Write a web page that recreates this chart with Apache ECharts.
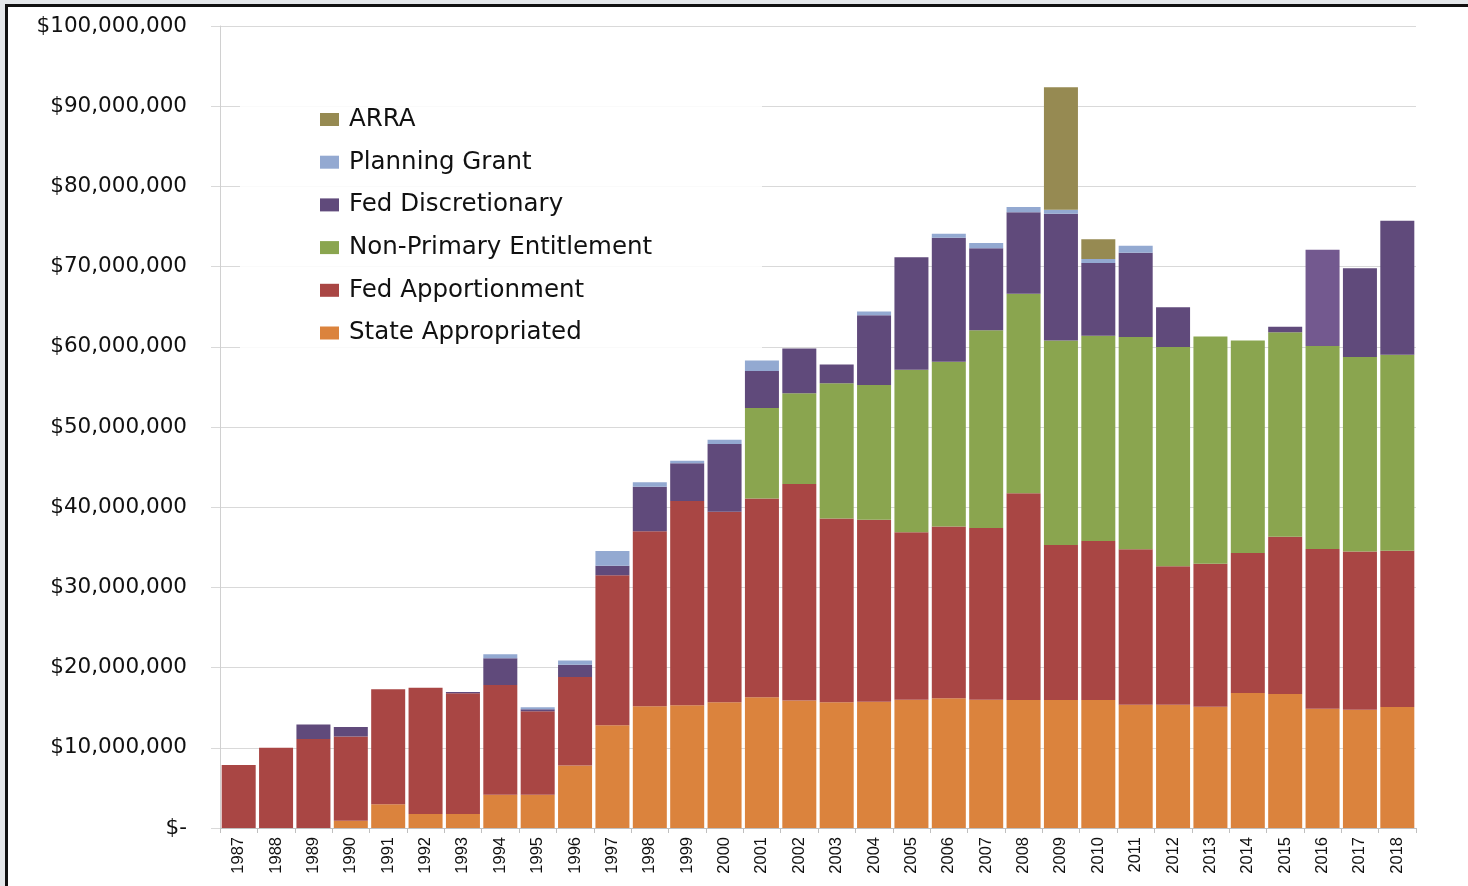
<!DOCTYPE html>
<html>
<head>
<meta charset="utf-8">
<script src="https://cdn.jsdelivr.net/npm/echarts@6/dist/echarts.min.js"></script>
<style>
  html, body { margin: 0; padding: 0; background: #ffffff; }
  #chart { position: absolute; left: 0; top: 0; width: 1468px; height: 886px; background: #ffffff; }
  .frame { position: absolute; pointer-events: none; }
</style>
</head>
<body>
<div id="chart"></div>
<div class="frame" style="left:0;top:0;width:1468px;height:4px;background:#e4e7ea;"></div>
<div class="frame" style="left:0;top:0;width:5px;height:886px;background:#e4e7ea;"></div>
<div class="frame" style="left:5px;top:4px;width:1463px;height:3px;background:#111111;"></div>
<div class="frame" style="left:5px;top:4px;width:3px;height:882px;background:#111111;"></div>
<script>
// Years (categories)
var years = ['1987','1988','1989','1990','1991','1992','1993','1994','1995','1996','1997','1998','1999','2000',
  '2001','2002','2003','2004','2005','2006','2007','2008','2009','2010','2011','2012','2013','2014','2015','2016','2017','2018'];

// Values in millions of dollars
var stateAppropriated = [0, 0, 0, 0.9, 2.95, 1.75, 1.75, 4.15, 4.15, 7.8, 12.8, 15.17, 15.3, 15.67,
  16.3, 15.9, 15.67, 15.75, 16.0, 16.17, 16.0, 15.96, 15.96, 15.96, 15.38, 15.38, 15.13, 16.83, 16.71, 14.88, 14.75, 15.09];
var fedApportionment = [7.86, 10.0, 11.1, 10.5, 14.35, 15.75, 15.05, 13.68, 10.4, 11.03, 18.7, 21.83, 25.47, 23.77,
  24.8, 27.0, 22.93, 22.69, 20.87, 21.43, 21.4, 25.77, 19.33, 19.83, 19.37, 17.25, 17.83, 17.46, 19.61, 19.91, 19.72, 19.47];
var nonPrimaryEntitlement = [0, 0, 0, 0, 0, 0, 0, 0, 0, 0, 0, 0, 0, 0,
  11.27, 11.3, 16.84, 16.8, 20.26, 20.54, 24.66, 24.89, 25.48, 25.6, 26.47, 27.35, 28.32, 26.48, 25.49, 25.31, 24.26, 24.45];
var fedDiscretionary = [0, 0, 1.8, 1.2, 0, 0, 0.15, 3.33, 0.25, 1.54, 1.2, 5.56, 4.7, 8.44,
  4.61, 5.6, 2.36, 8.69, 14.03, 15.46, 10.22, 10.15, 15.83, 9.06, 10.51, 4.95, 0, 0, 0.7, 12.0, 11.06, 16.71];
var planningGrant = [0, 0, 0, 0, 0, 0, 0, 0.5, 0.25, 0.53, 1.84, 0.54, 0.33, 0.54,
  1.32, 0, 0, 0.47, 0, 0.5, 0.66, 0.66, 0.5, 0.5, 0.87, 0, 0, 0, 0, 0, 0, 0];
var arra = [0, 0, 0, 0, 0, 0, 0, 0, 0, 0, 0, 0, 0, 0,
  0, 0, 0, 0, 0, 0, 0, 0, 15.25, 2.45, 0, 0, 0, 0, 0, 0, 0, 0];

var seriesNames = ['State Appropriated', 'Fed Apportionment', 'Non-Primary Entitlement', 'Fed Discretionary', 'Planning Grant', 'ARRA'];
var seriesData = [stateAppropriated, fedApportionment, nonPrimaryEntitlement, fedDiscretionary, planningGrant, arra];
var seriesColors = ['#DB833D', '#A94644', '#8AA54F', '#604A7B', '#93A9D1', '#968A52'];
var legendOrder = ['ARRA', 'Planning Grant', 'Fed Discretionary', 'Non-Primary Entitlement', 'Fed Apportionment', 'State Appropriated'];

function fmtDollar(v) {
  if (v === 0) return '$-';
  return '$' + Math.round(v).toString().replace(/\B(?=(\d{3})+(?!\d))/g, ',');
}

var series = seriesNames.map(function (name, i) {
  return {
    name: name,
    type: 'bar',
    stack: 'total',
    barCategoryGap: '9%',
    itemStyle: { color: seriesColors[i] },
    emphasis: { disabled: true },
    data: seriesData[i].map(function (v, j) {
      var item = { value: v * 1e6 };
      if (name === 'Fed Discretionary' && years[j] === '2016') {
        item.itemStyle = { color: '#73598F' };
      }
      return item;
    })
  };
});

var chart = echarts.init(document.getElementById('chart'), null, { renderer: 'canvas' });
chart.setOption({
  animation: false,
  backgroundColor: '#ffffff',
  grid: { left: 220, right: 52, top: 26, bottom: 58, containLabel: false },
  legend: {
    orient: 'vertical',
    left: 240,
    top: 95,
    data: legendOrder,
    icon: 'rect',
    itemWidth: 19,
    itemHeight: 13,
    itemGap: 17.7,
    padding: [12, 73, 10, 80],
    backgroundColor: 'rgba(255,255,255,0.85)',
    textStyle: {
      fontFamily: 'DejaVu Sans',
      fontSize: 24.5,
      lineHeight: 24,
      color: '#111111',
      width: 340,
      padding: [0, 0, 0, 5]
    }
  },
  xAxis: {
    type: 'category',
    data: years,
    axisLine: { lineStyle: { color: '#bfbfbf', width: 1 } },
    axisTick: { show: true, length: 5, lineStyle: { color: '#bfbfbf' } },
    axisLabel: {
      rotate: 90,
      interval: 0,
      margin: 9,
      fontFamily: 'Liberation Sans',
      fontSize: 16.5,
      color: '#111111'
    }
  },
  yAxis: {
    type: 'value',
    min: 0,
    max: 100000000,
    interval: 10000000,
    axisLine: { show: true, lineStyle: { color: '#d0d0d0', width: 1 } },
    axisTick: { show: true, length: 9, lineStyle: { color: '#d9d9d9' } },
    splitLine: { show: true, lineStyle: { color: '#d9d9d9', width: 1 } },
    axisLabel: {
      margin: 33,
      fontFamily: 'DejaVu Sans',
      fontSize: 21.5,
      color: '#111111',
      formatter: fmtDollar
    }
  },
  series: series
});
</script>
</body>
</html>
